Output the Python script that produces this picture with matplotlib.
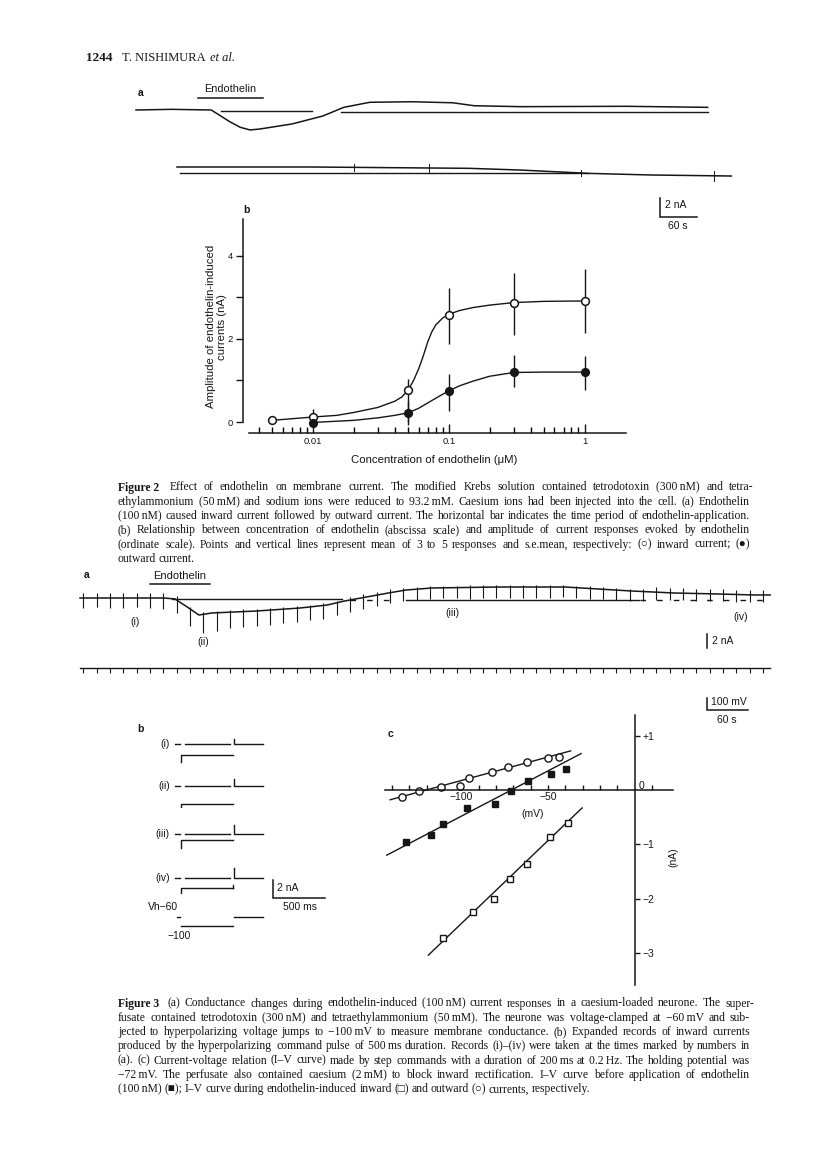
import matplotlib.pyplot as plt
from matplotlib.ticker import FixedLocator, NullFormatter
import numpy as np

plt.rcParams['font.family'] = ['Liberation Sans', 'DejaVu Sans']
SERIF = ['Liberation Serif', 'DejaVu Serif']
INK = '#161616'

W, H = 816, 1162

# ---------------- data ----------------
# Fig 2a, chart record (time s, current nA), two rows
f2a_t1 = [0, 58, 122, 135, 152, 169, 185, 201, 253, 303, 337, 379, 446, 514, 548, 624, 793, 927]
f2a_i1 = [0, 0.07, 0, -0.53, -1.23, -1.82, -2.1, -2.0, -1.47, -0.63, 0.28, 0.81, 0.87, 0.76,
          0.45, 0.35, 0.39, 0.28]
f2a_ref1 = [(138, 285, -0.07), (332, 927, -0.24)]
f2a_t2 = [0, 219, 473, 557, 667, 768, 899]
f2a_i2 = [0, 0, -0.14, -0.32, -0.67, -0.84, -0.95]
f2a_ref2 = [(5, 667, -0.67)]
f2a_spikes = [(287, 0.35), (409, 0.45), (655, -0.3), (870, 0.5)]
f2a_drug = (100, 206)

# Fig 2b, dose-response
conc_in = [0.005, 0.01, 0.05, 0.1, 0.3, 1]
amp_in = [0.04, 0.12, 0.76, 2.57, 2.87, 2.91]
amp_in_lo = [0.04, -0.02, -0.08, 1.87, 2.09, 2.13]
amp_in_hi = [0.04, 0.32, 1.04, 3.21, 3.59, 3.67]
conc_out = [0.01, 0.05, 0.1, 0.3, 1]
amp_out = [-0.02, 0.22, 0.75, 1.20, 1.20]
amp_out_lo = [-0.02, 0.0, 0.27, 0.84, 0.78]
amp_out_hi = [-0.02, 0.5, 1.16, 1.62, 1.58]
fit_in_c = [0.005, 0.01, 0.015, 0.02, 0.03, 0.04, 0.045, 0.05, 0.055, 0.06, 0.065, 0.07,
            0.075, 0.08, 0.09, 0.1, 0.12, 0.15, 0.2, 0.3, 0.5, 1]
fit_in_a = [0.04, 0.12, 0.16, 0.23, 0.35, 0.5, 0.6, 0.76, 1.0, 1.28, 1.6, 1.93,
            2.17, 2.33, 2.5, 2.59, 2.68, 2.75, 2.81, 2.87, 2.9, 2.91]
fit_out_c = [0.01, 0.02, 0.03, 0.04, 0.05, 0.06, 0.07, 0.085, 0.1, 0.12, 0.15, 0.2, 0.3, 0.5, 1]
fit_out_a = [-0.01, 0.04, 0.1, 0.16, 0.22, 0.33, 0.46, 0.62, 0.75, 0.87, 0.98, 1.1, 1.19, 1.2, 1.2]

# Fig 3a, current record with conductance pulses (s, nA) and voltage (mV)
f3a_t = [0, 123, 139, 157, 174, 193, 258, 322, 362, 387, 419, 451, 477, 515, 612, 710,
         807, 871, 936, 987, 1010]
f3a_i = [0, 0, -0.14, -1.29, -2.43, -2.14, -1.86, -1.43, -1.0, -0.43, 0.14, 0.71, 1.14,
         1.43, 1.57, 1.57, 1.0, 0.71, 0.57, 0.43, 0.43]
f3a_ref = [(135, 384, -0.14), (477, 818, -0.29)]
f3a_ref_dash = [(395, 461, -0.29), (820, 1010, -0.29)]
f3a_drug = (102, 190)
pulse_dt = 19.5
pulse_down = [1.4, 1.3, 1.4, 1.4, 1.3, 1.4, 1.5,
              1.9,
              2.5, 2.7, 2.6,
              2.3, 2.2, 2.1, 2.1, 2.0, 2.0, 1.9, 1.9, 1.8,
              1.7, 1.6, 1.6, 1.5,
              1.5, 1.5, 1.6, 1.5, 1.5, 1.6, 1.5, 1.5, 1.5, 1.6, 1.5, 1.5, 1.4, 1.5, 1.5, 1.4,
              1.4, 1.4, 1.3,
              1.1, 1.0, 1.0, 1.1, 1.0, 1.0, 1.1, 1.0, 1.0]
pulse_up = [0.7, 0.7, 0.7, 0.7, 0.7, 0.7, 0.7,
            0.6,
            0.3, 0.3, 0.3,
            0.3, 0.3, 0.3, 0.3, 0.3, 0.3, 0.3, 0.3, 0.3,
            0.5, 0.5, 0.5, 0.5,
            0.3, 0.3, 0.3, 0.3, 0.3, 0.3, 0.3, 0.3, 0.3, 0.3, 0.3, 0.3, 0.3, 0.3, 0.3, 0.3,
            0.3, 0.3, 0.3,
            0.7, 0.7, 0.7, 0.7, 0.7, 0.7, 0.7, 0.7, 0.7]
v_hold, v_step = -60, -100
f3a_marks = ['(i)', '(ii)', '(iii)', '(iv)']

# Fig 3b, expanded records (ms, nA)
rows = ['(i)', '(ii)', '(iii)', '(iv)']
row_step = [1.22, 2.0, 0.67, 1.11]
row_hook = [2.0, 2.33, 1.56, 1.67]
row_off = [0.56, 0.8, 1.0, 1.1]
row_end = [0, 0, 0, 0.33]
pulse_ms = 500

# Fig 3c, I-V relations (mV, nA)
iv_out_v = [-134.2, -124.2, -111.5, -100.6, -95.4, -82.3, -73.1, -62.1, -50.2, -43.7]
iv_out_i = [-0.12, -0.01, 0.05, 0.08, 0.23, 0.33, 0.43, 0.52, 0.58, 0.61]
iv_ctl_v = [-131.7, -117.5, -110.8, -96.5, -80.4, -71.3, -61.5, -48.3, -39.8]
iv_ctl_i = [-0.95, -0.82, -0.63, -0.33, -0.25, -0.01, 0.17, 0.29, 0.38]
iv_in_v = [-110.8, -93.3, -81.3, -71.7, -61.9, -49.0, -38.5]
iv_in_i = [-2.73, -2.25, -2.01, -1.64, -1.36, -0.86, -0.61]
fit_out = ([-141, -37], [-0.18, 0.72])
fit_ctl = ([-143, -31], [-1.2, 0.67])
fit_in = ([-119, -30.4], [-3.04, -0.33])

cap2 = ["Effect of endothelin on membrane current. The modified Krebs solution contained tetrodotoxin (300\u2009nM) and tetra-",
        "ethylammonium (50\u2009mM) and sodium ions were reduced to 93.2\u2009mM. Caesium ions had been injected into the cell. (a) Endothelin",
        "(100\u2009nM) caused inward current followed by outward current. The horizontal bar indicates the time period of endothelin-application.",
        "(b) Relationship between concentration of endothelin (abscissa scale) and amplitude of current responses evoked by endothelin",
        "(ordinate scale). Points and vertical lines represent mean of 3 to 5 responses and s.e.mean, respectively: (\u25cb) inward current; (\u25cf)",
        "outward current."]
cap3 = ["(a) Conductance changes during endothelin-induced (100\u2009nM) current responses in a caesium-loaded neurone. The super-",
        "fusate contained tetrodotoxin (300\u2009nM) and tetraethylammonium (50\u2009mM). The neurone was voltage-clamped at \u221260\u2009mV and sub-",
        "jected to hyperpolarizing voltage jumps to \u2212100\u2009mV to measure membrane conductance. (b) Expanded records of inward currents",
        "produced by the hyperpolarizing command pulse of 500\u2009ms duration. Records (i)\u2013(iv) were taken at the times marked by numbers in",
        "(a). (c) Current-voltage relation (I\u2013V curve) made by step commands with a duration of 200\u2009ms at 0.2\u2009Hz. The holding potential was",
        "\u221272\u2009mV. The perfusate also contained caesium (2\u2009mM) to block inward rectification. I\u2013V curve before application of endothelin",
        "(100\u2009nM) (\u25a0); I\u2013V curve during endothelin-induced inward (\u25a1) and outward (\u25cb) currents, respectively."]

# ---------------- page ----------------
fig = plt.figure(figsize=(W / 100, H / 100), dpi=100)
page = fig.add_axes([0, 0, 1, 1])
page.set_xlim(0, W)
page.set_ylim(H, 0)
page.axis('off')


def add_box(x0, y0, x1, y1):
    return fig.add_axes([x0 / W, 1 - y1 / H, (x1 - x0) / W, (y1 - y0) / H])


def trace_axes(x0, y0, x1, y1, ox, oy, sx, sy):
    # axes whose data origin sits at page pixel (ox, oy), sx/sy pixels per unit
    ax = add_box(x0, y0, x1, y1)
    ax.set_xlim((x0 - ox) / sx, (x1 - ox) / sx)
    ax.set_ylim((oy - y1) / sy, (oy - y0) / sy)
    ax.axis('off')
    return ax


def scalebar(x, y, w, h, lw=1.1):
    page.plot([x, x, x + w], [y - h, y, y], color=INK, lw=lw, solid_joinstyle='miter')


def txt(x, y, s, size=7.5, **kw):
    kw.setdefault('va', 'center')
    page.text(x, y, s, fontsize=size, color=INK, **kw)


def caption(lines, y0, lead, x0=118, x1=750, size=8.4, step=14.3):
    r = fig.canvas.get_renderer()
    for n, line in enumerate(lines):
        y = y0 + n * step
        runs = [(lead, 'bold')] if n == 0 else []
        runs += [(w, 'normal') for w in line.split(' ')]
        widths = []
        for s, wt in runs:
            t = page.text(0, 0, s, fontsize=size, family=SERIF, weight=wt)
            widths.append(t.get_window_extent(r).width)
            t.remove()
        if n == len(lines) - 1:
            gap = 2.6
        else:
            gap = (x1 - x0 - sum(widths)) / (len(runs) - 1)
        x = x0
        for k, ((s, wt), w) in enumerate(zip(runs, widths)):
            page.text(x, y + 3.5, s, fontsize=size, family=SERIF, weight=wt,
                      va='baseline', color=INK)
            x += w + gap + (4 if (n == 0 and k == 0) else 0)


# header
txt(86, 58, '1244', size=9.5, family=SERIF, weight='bold')
txt(122, 58, 'T. NISHIMURA', size=9, family=SERIF)
txt(210, 58, 'et al.', size=9, family=SERIF, style='italic')

# ---------------- Figure 2a ----------------
PX_S2, PX_NA2 = 37 / 60, 9.5
a1 = trace_axes(125, 80, 745, 145, 136, 110, PX_S2, PX_NA2)
a1.plot(f2a_t1, f2a_i1, color=INK, lw=1.1)
for t0, t1, lv in f2a_ref1:
    a1.plot([t0, t1], [lv, lv], color=INK, lw=1.0)
a1.plot(f2a_drug, [1.26, 1.26], color=INK, lw=1.1)
a1.text(np.mean(f2a_drug), 2.2, 'Endothelin', ha='center', va='center', fontsize=7.8, color=INK)
a2 = trace_axes(170, 150, 745, 190, 177, 167, PX_S2, PX_NA2)
a2.plot(f2a_t2, f2a_i2, color=INK, lw=1.1)
for t0, t1, lv in f2a_ref2:
    a2.plot([t0, t1], [lv, lv], color=INK, lw=1.0)
for ts, hs in f2a_spikes:
    base = np.interp(ts, f2a_t2, f2a_i2)
    a2.plot([ts, ts], [base - abs(hs), base + abs(hs)], color=INK, lw=0.7)
txt(138, 93, 'a', weight='bold')
scalebar(660, 217, 60 * PX_S2, 2 * PX_NA2)
txt(665, 205, '2 nA', size=7.5)
txt(678, 226, '60 s', size=7.5, ha='center')

# ---------------- Figure 2b ----------------
bx = add_box(249, 219, 626, 422)
bx.set_xscale('log')
bx.set_xlim(10 ** -2.472, 10 ** 0.305)
bx.set_ylim(0, 4.88)
for s in ('top', 'right'):
    bx.spines[s].set_visible(False)
bx.spines['left'].set_position(('outward', 4.3))
bx.spines['bottom'].set_position(('outward', 8))
for s in ('left', 'bottom'):
    bx.spines[s].set_linewidth(1.1)
    bx.spines[s].set_color(INK)
bx.set_yticks([0, 1, 2, 3, 4])
bx.set_yticklabels(['0', '', '2', '', '4'])
bx.set_xticks([0.01, 0.1, 1])
bx.set_xticklabels(['0.01', '0.1', '1'])
bx.xaxis.set_minor_locator(FixedLocator([0.004, 0.005, 0.006, 0.007, 0.008, 0.009,
                                         0.02, 0.03, 0.04, 0.05, 0.06, 0.07, 0.08, 0.09,
                                         0.2, 0.3, 0.4, 0.5, 0.6, 0.7, 0.8, 0.9]))
bx.xaxis.set_minor_formatter(NullFormatter())
bx.tick_params(axis='y', direction='out', length=5, width=1.0, labelsize=6.8, pad=2, colors=INK)
bx.tick_params(axis='x', which='major', direction='in', length=6.5, width=1.0, labelsize=6.8,
               pad=3, colors=INK)
bx.tick_params(axis='x', which='minor', direction='in', length=4, width=1.0)
bx.patch.set_visible(False)
bx.plot(fit_in_c, fit_in_a, color=INK, lw=1.0, clip_on=False)
bx.plot(fit_out_c, fit_out_a, color=INK, lw=1.0, clip_on=False)
bx.vlines(conc_in, amp_in_lo, amp_in_hi, color=INK, lw=1.0, clip_on=False)
bx.vlines(conc_out, amp_out_lo, amp_out_hi, color=INK, lw=1.0, clip_on=False)
bx.plot(conc_in, amp_in, 'o', ms=5.6, mfc='white', mec=INK, mew=1.1, clip_on=False, zorder=4)
bx.plot(conc_out, amp_out, 'o', ms=5.6, mfc=INK, mec=INK, mew=1.0, clip_on=False, zorder=4)
bx.set_ylabel('Amplitude of endothelin-induced\ncurrents (nA)', fontsize=8.2, color=INK,
              linespacing=1.1)
bx.yaxis.set_label_coords(-0.058, 0.47)
bx.set_xlabel('Concentration of endothelin (\u03bcM)', fontsize=8.2, color=INK)
bx.xaxis.set_label_coords(0.49, -0.165)
txt(243, 210, 'b', weight='bold')

caption(cap2, 487, 'Figure 2')

# ---------------- Figure 3a ----------------
PX_S3, PX_NA3, PX_MV3 = 41 / 60, 7, 0.125
c1 = trace_axes(75, 565, 785, 655, 80, 598, PX_S3, PX_NA3)
c1.plot(f3a_t, f3a_i, color=INK, lw=1.1)
for t0, t1, lv in f3a_ref:
    c1.plot([t0, t1], [lv, lv], color=INK, lw=1.0)
for t0, t1, lv in f3a_ref_dash:
    c1.plot([t0, t1], [lv, lv], color=INK, lw=1.0, ls=(0, (4, 8)))
pulse_t = 5 + pulse_dt * np.arange(len(pulse_down))
level = np.interp(pulse_t, f3a_t, f3a_i)
c1.vlines(pulse_t, level - np.array(pulse_down), level + np.array(pulse_up), color=INK, lw=0.8)
c1.plot(f3a_drug, [2.0, 2.0], color=INK, lw=1.1)
c1.text(np.mean(f3a_drug), 3.15, 'Endothelin', ha='center', va='center', fontsize=8, color=INK)
txt(84, 575, 'a', weight='bold')
for lab, (x, y) in zip(f3a_marks, [(135, 622), (203, 642), (452, 613), (741, 617)]):
    txt(x, y, lab, size=7.5, ha='center')
scalebar(707, 648, 0, 2 * PX_NA3)
txt(712, 641, '2 nA', size=7.5)

c2 = trace_axes(75, 655, 785, 680, 80, 668, PX_S3, PX_MV3)
c2.plot([0, 1010], [0, 0], color=INK, lw=1.0)
c2.vlines(pulse_t, v_step - v_hold, 0, color=INK, lw=0.8)
scalebar(707, 710, 60 * PX_S3, 100 * PX_MV3)
txt(711, 702, '100 mV', size=7.5)
txt(727, 720, '60 s', size=7.5, ha='center')

# ---------------- Figure 3b ----------------
PX_MS, PX_NAB = 52 / 500, 9
row_y = [744, 786, 834, 878]
for lab, y, st, hk, off, en in zip(rows, row_y, row_step, row_hook, row_off, row_end):
    r = trace_axes(170, y - 18, 270, y + 22, 181, y, PX_MS, PX_NAB)
    r.plot([-58, -10], [0, 0], color=INK, lw=1.0)
    r.plot([40, 470], [0, 0], color=INK, lw=1.0)
    r.plot([0, 0, pulse_ms], [-hk, -st, -st], color=INK, lw=1.0)
    if en:
        r.plot([pulse_ms, pulse_ms], [-st, -st + en], color=INK, lw=1.0)
    r.plot([pulse_ms + 5, pulse_ms + 5, 790], [off, 0, 0], color=INK, lw=1.0)
    txt(170, y, lab, size=7.5, ha='right')
vb = trace_axes(170, 905, 270, 935, 181, 917, PX_MS, 9 / 40)
vb.plot([-40, -5], [0, 0], color=INK, lw=1.0)
vb.plot([0, pulse_ms], [v_step - v_hold] * 2, color=INK, lw=1.0)
vb.plot([pulse_ms + 5, 790], [0, 0], color=INK, lw=1.0)
txt(148, 907, 'Vh\u221260', size=7.5)
txt(167, 936, '\u2212100', size=7.5)
txt(137, 729, 'b', weight='bold')
scalebar(273, 898, pulse_ms * PX_MS, 2 * PX_NAB)
txt(277, 888, '2 nA', size=7.5)
txt(300, 907, '500 ms', size=7.5, ha='center')

# ---------------- Figure 3c ----------------
cx = add_box(385, 712, 673, 985)
cx.set_xlim(-144, 22)
cx.set_ylim(-3.59, 1.436)
cx.patch.set_visible(False)
cx.spines['top'].set_visible(False)
cx.spines['left'].set_visible(False)
cx.spines['bottom'].set_position(('data', 0))
cx.spines['right'].set_position(('data', 0))
cx.spines['right'].set_bounds(-3.59, 1.38)
for s in ('bottom', 'right'):
    cx.spines[s].set_linewidth(1.1)
    cx.spines[s].set_color(INK)
cx.yaxis.tick_right()
cx.set_yticks([1, -1, -2, -3])
cx.set_yticklabels(['+1', '\u22121', '\u22122', '\u22123'])
cx.tick_params(axis='y', direction='out', length=3.6, width=1.0, labelsize=7.5, pad=2, colors=INK)
cx.set_xticks([-140, -130, -120, -110, -100, -90, -80, -70, -60, -50, -40, -30, -20, -10, 10])
cx.set_xticklabels(['', '', '', '', '\u2212100', '', '', '', '', '\u221250', '', '', '', '', ''])
cx.tick_params(axis='x', direction='in', length=3.4, width=1.0, labelsize=7.5, pad=1.5, colors=INK)
cx.plot(*fit_out, color=INK, lw=1.0)
cx.plot(*fit_ctl, color=INK, lw=1.0)
cx.plot(*fit_in, color=INK, lw=1.0)
cx.plot(iv_out_v, iv_out_i, 'o', ms=5.2, mfc='white', mec=INK, mew=1.0, clip_on=False)
cx.plot(iv_ctl_v, iv_ctl_i, 's', ms=4.4, mfc=INK, mec=INK, clip_on=False)
cx.plot(iv_in_v, iv_in_i, 's', ms=4.4, mfc='white', mec=INK, mew=1.0, clip_on=False)
txt(639, 786, '0', size=7.5)
txt(533, 814, '(mV)', size=7.5, ha='center')
txt(673, 857, '(nA)', size=7.5, ha='center', rotation=90)
txt(388, 734, 'c', weight='bold')

caption(cap3, 1003, 'Figure 3')

fig.savefig('out.png', dpi=100, facecolor='white')
